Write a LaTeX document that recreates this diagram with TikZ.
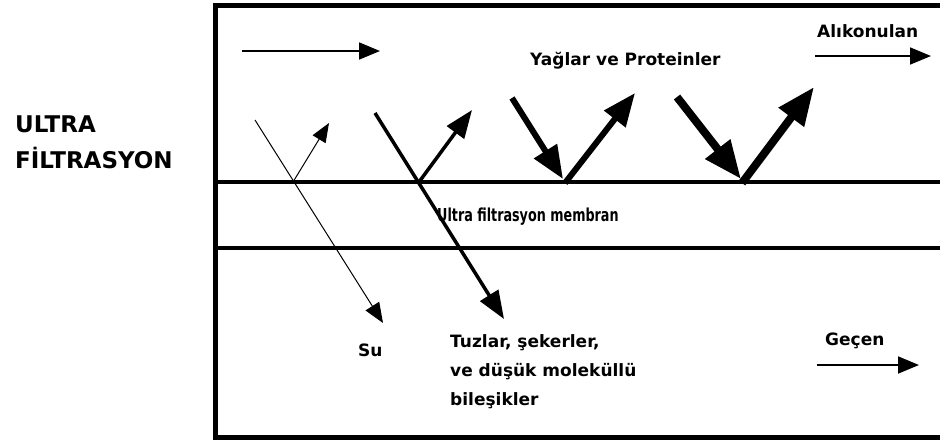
\documentclass[tikz,border=0pt]{standalone}
\usepackage{fontspec}
\setmainfont{DejaVu Sans}
\usetikzlibrary{arrows.meta}
\begin{document}
\begin{tikzpicture}[x=1pt,y=-1pt,
  lbl/.style={font=\bfseries\fontsize{17}{29}\selectfont, inner sep=0pt, anchor=base west, align=left},
  title/.style={font=\bfseries\fontsize{23}{36}\selectfont, inner sep=0pt, anchor=base west, align=left},
  wall/.style={line width=5pt, line join=miter},
  mem/.style={line width=4.5pt},
  thinarr/.style={line width=1pt, -{Triangle[length=20pt,width=16pt]}},
  flowarr/.style={line width=1.8pt, -{Triangle[length=21pt,width=17pt]}},
  medarr/.style={line width=3.5pt, -{Triangle[length=28pt,width=21pt]}},
  thickarr/.style={line width=6pt, -{Triangle[length=33pt,width=26pt]}},
  thickerarr/.style={line width=8pt, -{Triangle[length=38pt,width=30pt]}}
]
\useasboundingbox (0,0) rectangle (940,440);

% frame and membrane
\coordinate (tr) at (940,5);
\coordinate (tl) at (215,5);
\coordinate (bl) at (215,437);
\coordinate (br) at (940,437);
\draw[wall] (tr) -- (tl) -- (bl) -- (br);
\coordinate (m1l) at (215,182);
\coordinate (m1r) at (940,182);
\coordinate (m2l) at (215,248);
\coordinate (m2r) at (940,248);
\draw[mem] (m1l) -- (m1r);
\draw[mem] (m2l) -- (m2r);

% labels
\node[title] (ttl) at (15,168) {ULTRA\\FİLTRASYON};
\node[lbl] (yag) at (530,65) {Yağlar ve Proteinler};
\node[lbl] (alk) at (817,37) {Alıkonulan};
\node[lbl] (memb) at (437,221) {\scalebox{0.75}[1.05]{Ultra filtrasyon membran}};
\node[lbl] (su) at (358,356) {Su};
\node[lbl] (tuz) at (450,405) {Tuzlar, şekerler,\\ve düşük moleküllü\\bileşikler};
\node[lbl] (gec) at (825,345) {Geçen};

% flow arrows
\coordinate (f1s) at (242,51);
\coordinate (f1e) at (380,51);
\draw[flowarr] (f1s) -- (f1e);
\coordinate (f2s) at (815,56);
\coordinate (f2e) at (931,56);
\draw[flowarr] (f2s) -- (f2e);
\coordinate (f3s) at (817,365);
\coordinate (f3e) at (919,365);
\draw[flowarr] (f3s) -- (f3e);

% water
\coordinate (w1) at (255,120);
\coordinate (w2) at (383,323);
\coordinate (wm) at (293,182);
\coordinate (wr) at (329,123);
\draw[thinarr] (w1) -- (w2);
\draw[line width=1pt, -{Triangle[length=19pt,width=15pt]}] (wm) -- (wr);

% salts
\coordinate (s1) at (375,113);
\coordinate (s2) at (504,319);
\coordinate (sm) at (419,182);
\coordinate (sr) at (472,110);
\draw[medarr] (s1) -- (s2);
\draw[medarr] (sm) -- (sr);

% fats 1
\coordinate (a1) at (512,98);
\coordinate (a2) at (563,179);
\coordinate (am) at (565,183);
\coordinate (ar) at (635,93);
\draw[thickarr] (a1) -- (a2);
\draw[thickarr] (am) -- (ar);

% proteins 2
\coordinate (b1) at (677,97);
\coordinate (b2) at (741,179);
\coordinate (bm) at (742,183);
\coordinate (br2) at (814,87);
\draw[thickerarr] (b1) -- (b2);
\draw[thickerarr] (bm) -- (br2);
\end{tikzpicture}
\end{document}
